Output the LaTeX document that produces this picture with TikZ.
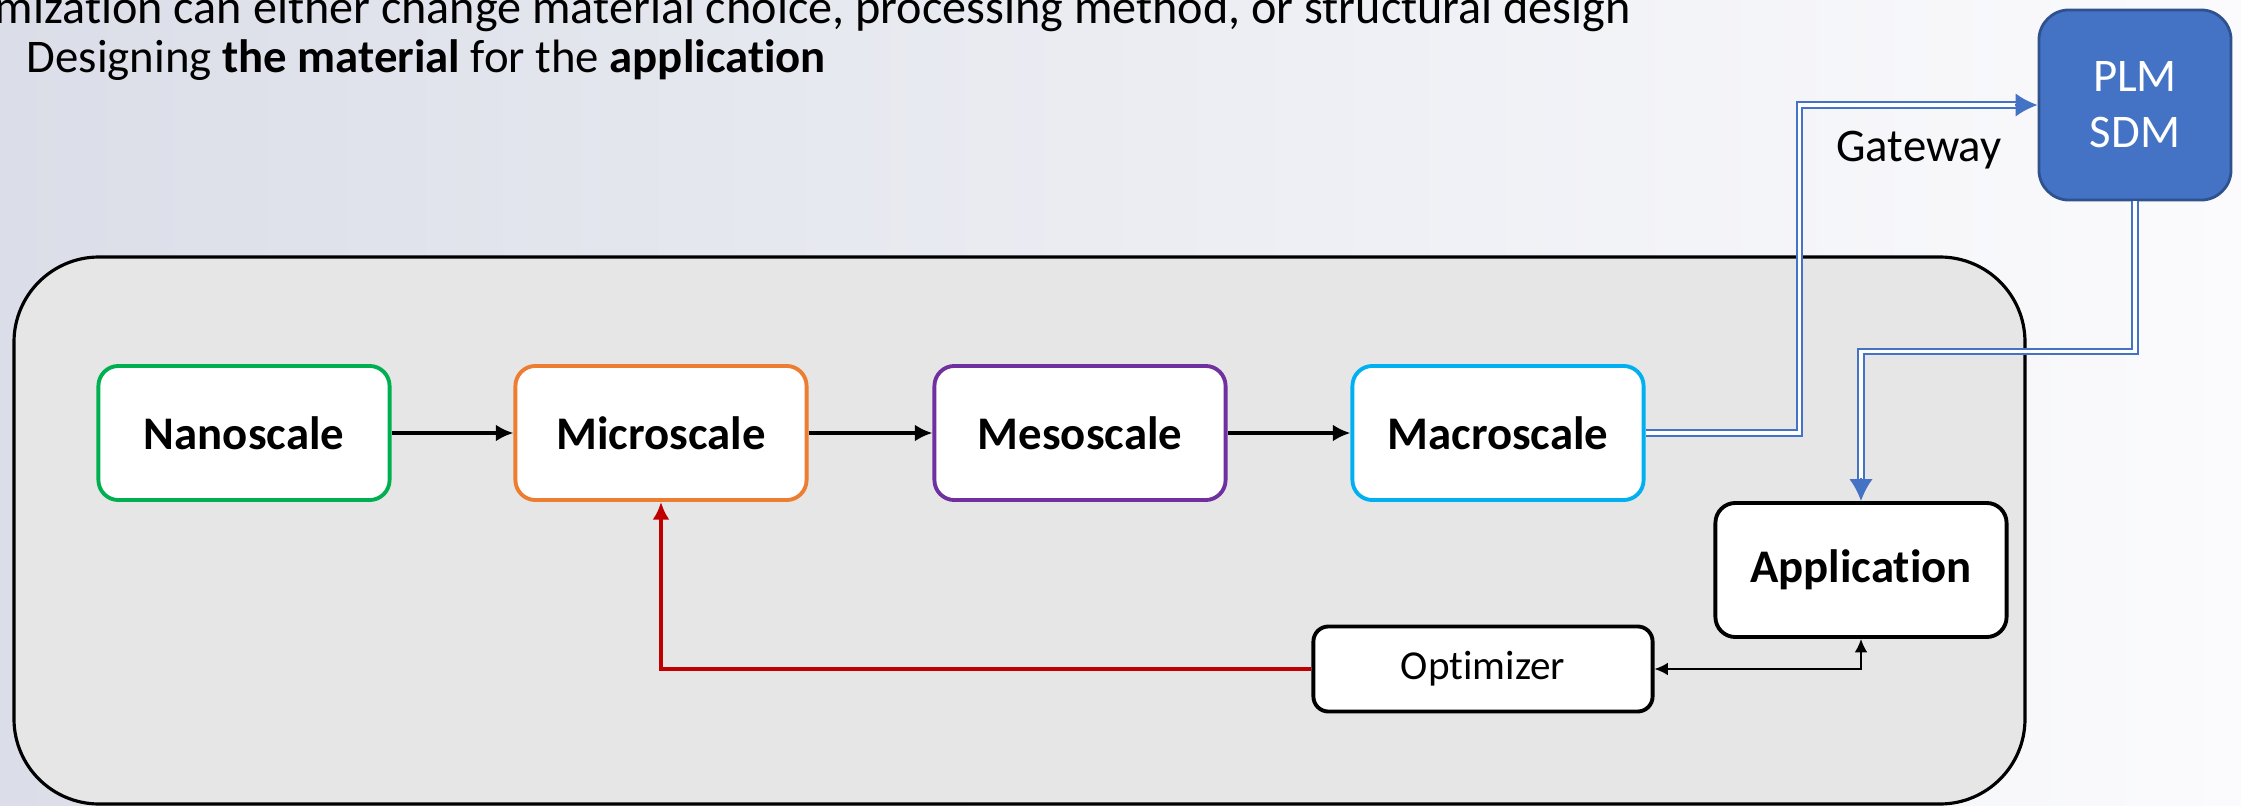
\documentclass[tikz,border=0pt]{standalone}
\usepackage{fontspec}
\setmainfont{Carlito}[Ligatures=NoCommon]
\usetikzlibrary{arrows.meta}
\definecolor{nanoC}{HTML}{00B050}
\definecolor{microC}{HTML}{ED7D31}
\definecolor{mesoC}{HTML}{7030A0}
\definecolor{macroC}{HTML}{00B0F0}
\definecolor{plmC}{HTML}{4472C4}
\definecolor{plmEdge}{HTML}{2F528F}
\definecolor{loopC}{HTML}{C00000}
\definecolor{panelC}{HTML}{E6E6E6}
\definecolor{bgL}{HTML}{DBDEE8}
\definecolor{bgM}{HTML}{EEEFF5}
\definecolor{bgR}{HTML}{FBFBFD}
\tikzset{
  txt/.style={inner sep=0pt, font=\fontsize{13.3}{16}\selectfont},
  scalebox/.style={draw=#1, line width=1.1pt, fill=white, rounded corners=0.2cm,
    minimum width=2.91cm, minimum height=1.34cm, font=\fontsize{13.3}{16}\selectfont\bfseries},
  flow/.style={-{Latex[length=5pt,width=4.8pt]}, line width=1.1pt},
  link/.style={draw=plmC, double=white, line width=0.65pt, double distance=0.9pt, shorten >=5.5pt},
  linktip/.style={-{Latex[length=6.2pt,width=6.6pt]}, plmC, line width=0.65pt}
}
\begin{document}
\begin{tikzpicture}[x=0.01cm, y=-0.01cm]
  \useasboundingbox (0,0) rectangle (2241,806);
  \shade[left color=bgL, middle color=bgM, right color=bgR] (0,0) rectangle (2241,806);
  \node[txt, anchor=base west, font=\fontsize{13.7}{16}\selectfont] (line1) at (-6,24)
    {mization can either change material choice, processing method, or structural design};
  \node[txt, anchor=base west] (line2) at (26,72)
    {Designing \textbf{the material} for the \textbf{application}};
  % panel with the scales
  \draw[line width=0.9pt, fill=panelC, rounded corners=0.85cm] (14,257) rectangle (2025,804);
  \foreach \nm/\x/\col/\txt in {nano/244/nanoC/Nanoscale, micro/661/microC/Microscale,
      meso/1080/mesoC/Mesoscale, macro/1498/macroC/Macroscale}
    \node[scalebox=\col] (\nm) at (\x,433) {\txt};
  \foreach \a/\b in {nano/micro, micro/meso, meso/macro}
    \draw[flow] (\a) -- (\b);
  \node[scalebox=black] (app) at (1861,570) {Application};
  \node[draw, line width=1.1pt, fill=white, rounded corners=0.15cm, minimum width=3.39cm,
    minimum height=0.85cm, font=\fontsize{11.7}{14}\selectfont] (opt) at (1483,669) {Optimizer};
  \node[draw=plmEdge, line width=0.8pt, fill=plmC, text=white, rounded corners=0.3cm,
    minimum width=1.92cm, minimum height=1.9cm, align=center,
    font=\fontsize{13.3}{16}\selectfont] (plm) at (2135,105) {PLM\\SDM};
  \node[txt] (gate) at (1919,150) {Gateway};
  % gateway links
  \draw[link] (macro.east) -- ++(154,0) |- (plm.west);
  \draw[linktip] ([xshift=-6.5pt]plm.west) -- (plm.west);
  \draw[link] (plm.south) -- ++(0,150) -| (app.north);
  \draw[linktip] ([yshift=6.5pt]app.north) -- (app.north);
  % optimizer loop
  \draw[-{Latex[length=5pt,width=4.8pt]}, loopC, line width=1.1pt] (opt.west) -| (micro.south);
  \draw[{Latex[length=3.8pt,width=3.6pt]}-{Latex[length=3.8pt,width=3.6pt]}, line width=0.45pt]
    (opt.east) -| (app.south);
\end{tikzpicture}
\end{document}
